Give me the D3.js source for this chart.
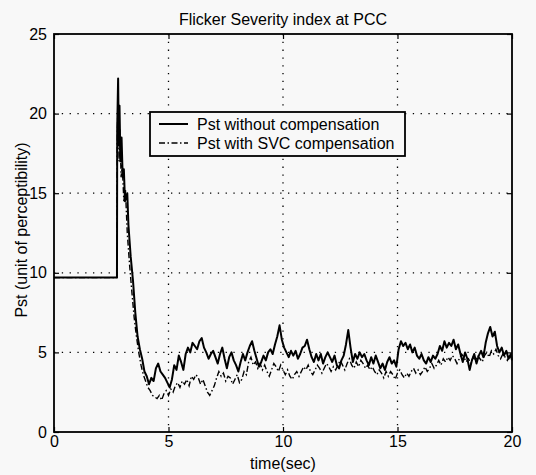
<!DOCTYPE html>
<html>
<head>
<meta charset="utf-8">
<script src="https://cdn.jsdelivr.net/npm/d3@7"></script>
<style>
  html, body { margin: 0; padding: 0; background: #f8f8f8; }
  svg { display: block; }
  text { font-family: "Liberation Sans", Arial, Helvetica, sans-serif; fill: #000; }
</style>
</head>
<body>
<script>
// ---- data ----
const xTicks = [0, 5, 10, 15, 20];
const yTicks = [0, 5, 10, 15, 20, 25];
const seriesNames = ["Pst without compensation", "Pst with SVC compensation"];

const timeSolid = [0, 2.75, 2.76, 2.8, 2.83, 2.86, 2.9, 2.95, 3.0, 3.05, 3.1, 3.2, 3.25, 3.35, 3.45, 3.55, 3.65, 3.75, 3.85, 3.95,
  4.05, 4.15, 4.25, 4.35, 4.45, 4.55, 4.65, 4.75, 4.85, 4.95, 5.05, 5.15, 5.25, 5.35, 5.45, 5.55, 5.65, 5.75, 5.85, 5.95,
  6.05, 6.15, 6.25, 6.35, 6.45, 6.55, 6.65, 6.75, 6.85, 6.95, 7.05, 7.15, 7.25, 7.35, 7.45, 7.55, 7.65, 7.75, 7.85, 7.95,
  8.05, 8.15, 8.25, 8.35, 8.45, 8.55, 8.65, 8.75, 8.85, 8.95, 9.05, 9.15, 9.25, 9.35, 9.45, 9.55, 9.65, 9.75, 9.85, 9.95,
  10.05, 10.15, 10.25, 10.35, 10.45, 10.55, 10.65, 10.75, 10.85, 10.95, 11.05, 11.15, 11.25, 11.35, 11.45, 11.55, 11.65, 11.75, 11.85, 11.95,
  12.05, 12.15, 12.25, 12.35, 12.45, 12.55, 12.65, 12.75, 12.85, 12.95, 13.05, 13.15, 13.25, 13.35, 13.45, 13.55, 13.65, 13.75, 13.85, 13.95,
  14.05, 14.15, 14.25, 14.35, 14.45, 14.55, 14.65, 14.75, 14.85, 14.95, 15.05, 15.15, 15.25, 15.35, 15.45, 15.55, 15.65, 15.75, 15.85, 15.95,
  16.05, 16.15, 16.25, 16.35, 16.45, 16.55, 16.65, 16.75, 16.85, 16.95, 17.05, 17.15, 17.25, 17.35, 17.45, 17.55, 17.65, 17.75, 17.85, 17.95,
  18.05, 18.15, 18.25, 18.35, 18.45, 18.55, 18.65, 18.75, 18.85, 18.95, 19.05, 19.15, 19.25, 19.35, 19.45, 19.55, 19.65, 19.75, 19.85, 19.95, 20.0];
const pstSolid = [9.7, 9.7, 19, 22.2, 18, 20.5, 17, 18.5, 16, 16.5, 14.5, 15, 13, 11, 9.5, 7.5, 6, 5.2, 4.6, 3.8,
  3.5, 3.0, 3.4, 3.2, 4.0, 4.3, 3.8, 3.6, 3.4, 3.1, 2.8, 3.3, 4.2, 3.9, 4.8, 4.4, 3.9, 4.9, 5.3, 5.0,
  5.6, 5.4, 5.2, 5.7, 5.9, 5.3, 5.0, 4.6, 4.9, 5.1, 4.7, 4.3, 4.9, 5.3, 4.6, 4.0, 4.7, 5.0, 4.5, 4.2,
  3.8, 4.4, 4.9, 4.5, 5.0, 5.4, 5.7, 5.1, 4.6, 4.1, 4.4, 4.8, 4.5, 5.0, 5.2, 4.9, 5.5, 6.0, 6.7, 5.8,
  5.3, 5.0, 4.7, 5.1, 4.8, 5.1, 4.6, 4.9, 5.3, 5.4, 5.8, 5.2, 4.7, 4.4, 4.9, 4.5, 4.9, 4.3, 4.7, 5.0,
  4.7, 4.4, 4.8, 4.2, 4.0, 4.5, 4.8, 5.5, 6.4, 5.3, 4.4, 4.9, 4.6, 5.0, 4.7, 4.9, 4.5, 4.2, 4.7, 4.3,
  4.8, 4.4, 4.0, 4.3, 3.9, 4.4, 4.7, 4.3, 4.5, 4.1, 5.2, 5.7, 5.4, 5.6, 5.2, 5.5, 5.0, 5.3, 4.8, 4.6,
  4.9, 4.5, 4.3, 4.7, 4.4, 4.8, 4.6, 4.9, 5.4, 5.1, 5.7, 5.3, 5.6, 5.4, 5.8, 5.2, 5.5, 4.9, 4.4, 5.0,
  4.6, 3.9, 4.5, 4.9, 4.3, 4.8, 5.1, 4.7, 5.6, 6.2, 6.6, 6.0, 6.3, 5.4, 5.0, 5.3, 4.8, 5.1, 4.6, 4.9, 4.5];

const timeDashed = [0, 2.75, 2.76, 2.8, 2.84, 2.88, 2.93, 2.98, 3.05, 3.12, 3.2, 3.3, 3.4, 3.5, 3.6, 3.7, 3.8, 3.9,
  4.0, 4.1, 4.2, 4.3, 4.4, 4.5, 4.6, 4.7, 4.8, 4.9, 5.0, 5.1, 5.2, 5.3, 5.4, 5.5, 5.6, 5.7, 5.8, 5.9,
  6.0, 6.1, 6.2, 6.3, 6.4, 6.5, 6.6, 6.7, 6.8, 6.9, 7.0, 7.1, 7.2, 7.3, 7.4, 7.5, 7.6, 7.7, 7.8, 7.9,
  8.0, 8.1, 8.2, 8.3, 8.4, 8.5, 8.6, 8.7, 8.8, 8.9, 9.0, 9.1, 9.2, 9.3, 9.4, 9.5, 9.6, 9.7, 9.8, 9.9,
  10.0, 10.1, 10.2, 10.3, 10.4, 10.5, 10.6, 10.7, 10.8, 10.9, 11.0, 11.1, 11.2, 11.3, 11.4, 11.5, 11.6, 11.7, 11.8, 11.9,
  12.0, 12.1, 12.2, 12.3, 12.4, 12.5, 12.6, 12.7, 12.8, 12.9, 13.0, 13.1, 13.2, 13.3, 13.4, 13.5, 13.6, 13.7, 13.8, 13.9,
  14.0, 14.1, 14.2, 14.3, 14.4, 14.5, 14.6, 14.7, 14.8, 14.9, 15.0, 15.1, 15.2, 15.3, 15.4, 15.5, 15.6, 15.7, 15.8, 15.9,
  16.0, 16.1, 16.2, 16.3, 16.4, 16.5, 16.6, 16.7, 16.8, 16.9, 17.0, 17.1, 17.2, 17.3, 17.4, 17.5, 17.6, 17.7, 17.8, 17.9,
  18.0, 18.1, 18.2, 18.3, 18.4, 18.5, 18.6, 18.7, 18.8, 18.9, 19.0, 19.1, 19.2, 19.3, 19.4, 19.5, 19.6, 19.7, 19.8, 19.9, 20.0];
const pstDashed = [9.7, 9.7, 18, 21.5, 17, 19, 16, 16.8, 14.5, 15.2, 12.5, 10.5, 8.8, 7.2, 6.0, 5.0, 4.2, 3.6,
  3.2, 2.8, 2.6, 2.3, 2.2, 2.1, 2.3, 2.0, 2.4, 2.6, 2.3, 2.7, 2.5, 2.9, 3.1, 2.8, 3.2, 3.0, 3.3, 2.9,
  3.5, 3.3, 3.6, 3.4, 3.0, 3.3, 2.9, 2.5, 2.3, 2.6, 2.9, 3.4, 3.8, 3.5, 3.7, 3.2, 3.5, 3.4, 3.0, 3.3,
  3.6, 3.1, 3.3, 3.8, 3.6, 4.4, 4.7, 4.2, 4.4, 4.0, 4.3, 3.9, 4.2, 3.8, 3.5, 3.9, 4.3, 4.1, 3.8, 4.2,
  3.9, 3.6, 3.9, 3.5, 3.3, 3.6, 3.8, 3.5, 3.8, 4.1, 3.9, 4.2, 3.8, 3.6, 3.9, 4.2, 4.0, 3.7, 4.0, 4.3,
  4.1, 3.8, 4.1, 3.9, 4.2, 4.5, 4.2, 3.9, 4.3, 4.6, 4.2, 4.0, 4.4, 4.1, 4.5, 4.3, 4.0, 4.2, 3.9, 4.1,
  3.8, 3.6, 3.9, 3.7, 3.4, 3.8, 3.5, 3.8, 3.6, 3.3, 3.7, 3.9, 3.6, 3.4, 3.7, 3.5, 3.8, 4.0, 3.7, 3.9,
  3.6, 3.8, 4.1, 3.8, 4.0, 4.3, 4.0, 4.2, 4.5, 4.2, 4.6, 4.4, 4.7, 4.5, 4.8, 4.6, 4.3, 4.6, 4.9, 4.7,
  4.4, 4.6, 4.3, 4.7, 4.5, 4.8, 4.6, 4.4, 4.8, 5.0, 4.7, 5.1, 4.9, 5.2, 4.8, 4.6, 4.9, 4.7, 4.5, 4.8, 4.6];

// ---- layout ----
const W = 536, H = 475;
const m = { left: 54, right: 24, top: 34, bottom: 43 };
const iw = W - m.left - m.right, ih = H - m.top - m.bottom;

const svg = d3.select("body").append("svg").attr("width", W).attr("height", H);
svg.append("rect").attr("width", W).attr("height", H).attr("fill", "#f8f8f8");
const g = svg.append("g").attr("transform", `translate(${m.left},${m.top})`);

const x = d3.scaleLinear().domain([0, 20]).range([0, iw]);
const y = d3.scaleLinear().domain([0, 25]).range([ih, 0]);

// grid
g.append("g").selectAll("line").data(xTicks.slice(1, -1)).join("line")
  .attr("x1", d => x(d)).attr("x2", d => x(d)).attr("y1", 0).attr("y2", ih)
  .attr("stroke", "#000").attr("stroke-width", 1.3).attr("stroke-dasharray", "1.3,6.5");
g.append("g").selectAll("line").data(yTicks.slice(1, -1)).join("line")
  .attr("y1", d => y(d)).attr("y2", d => y(d)).attr("x1", 0).attr("x2", iw)
  .attr("stroke", "#000").attr("stroke-width", 1.3).attr("stroke-dasharray", "1.3,6.5");

// lines
const line = d3.line().x(d => x(d[0])).y(d => y(d[1]));
const solid = timeSolid.map((t, i) => [t, pstSolid[i]]);
const dashed = timeDashed.map((t, i) => [t, pstDashed[i]]);

g.append("path").datum(dashed).attr("d", line).attr("fill", "none")
  .attr("stroke", "#000").attr("stroke-width", 1.4).attr("stroke-dasharray", "6,2.5,1.5,2.5");
g.append("path").datum(solid).attr("d", line).attr("fill", "none")
  .attr("stroke", "#000").attr("stroke-width", 2).attr("stroke-linejoin", "round");

// axes (MATLAB style, inward ticks)
const ax = g.append("g").attr("transform", `translate(0,${ih})`)
  .call(d3.axisBottom(x).tickValues(xTicks).tickSize(-5).tickPadding(4));
const axT = g.append("g").call(d3.axisTop(x).tickValues(xTicks).tickSize(-5).tickFormat(""));
const ay = g.append("g").call(d3.axisLeft(y).tickValues(yTicks).tickSize(-5).tickPadding(7));
const ayR = g.append("g").attr("transform", `translate(${iw},0)`)
  .call(d3.axisRight(y).tickValues(yTicks).tickSize(-5).tickFormat(""));
[ax, axT, ay, ayR].forEach(a => {
  a.select(".domain").remove();
  a.selectAll("line").attr("stroke", "#000").attr("stroke-width", 1.2);
  a.selectAll("text").style("font-size", "16px").attr("fill", "#000");
});

// frame
g.append("rect").attr("width", iw).attr("height", ih).attr("fill", "none")
  .attr("stroke", "#000").attr("stroke-width", 1.8);

// titles
svg.append("text").attr("x", m.left + iw / 2).attr("y", 25).attr("text-anchor", "middle")
  .style("font-size", "16px").text("Flicker Severity index at PCC");
svg.append("text").attr("x", m.left + iw / 2).attr("y", 469).attr("text-anchor", "middle")
  .style("font-size", "16px").text("time(sec)");
svg.append("text").attr("transform", `translate(27,${m.top + ih / 2 - 3}) rotate(-90)`)
  .attr("text-anchor", "middle").style("font-size", "16px").text("Pst (unit of perceptibility)");

// legend
const lg = svg.append("g").attr("transform", "translate(150,112)");
lg.append("rect").attr("width", 255).attr("height", 44).attr("fill", "#f8f8f8")
  .attr("stroke", "#000").attr("stroke-width", 1.8);
const rows = [
  { name: seriesNames[0], dash: null, w: 2 },
  { name: seriesNames[1], dash: "6,2.5,1.5,2.5", w: 1.4 }
];
rows.forEach((r, i) => {
  const yy = 12 + i * 19;
  lg.append("line").attr("x1", 9).attr("x2", 38).attr("y1", yy).attr("y2", yy)
    .attr("stroke", "#000").attr("stroke-width", r.w).attr("stroke-dasharray", r.dash);
  lg.append("text").attr("x", 47).attr("y", yy + 6).style("font-size", "16px").text(r.name);
});
</script>
</body>
</html>
